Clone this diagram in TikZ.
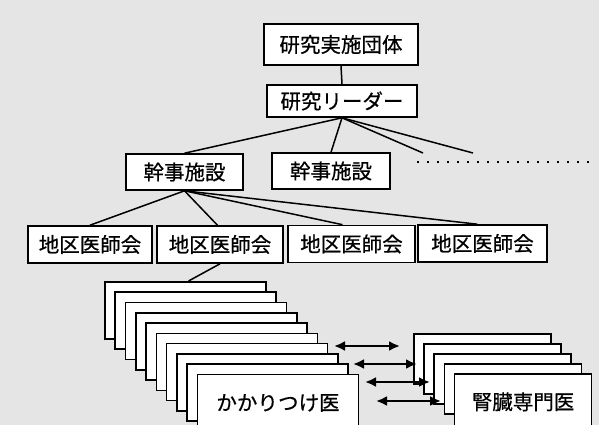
\documentclass[tikz,border=0pt]{standalone}
\usepackage{fontspec}
\newfontfamily\jp[FakeBold=0.6]{Noto Sans CJK JP}
\usetikzlibrary{arrows.meta,calc}
\begin{document}
\begin{tikzpicture}[x=1pt,y=-1pt,
  box/.style={draw,fill=white,line width=1.6pt,inner sep=0pt,font=\jp\fontsize{20.5pt}{24pt}\selectfont},
  card/.style={draw,fill=white,line width=1.6pt,inner sep=0pt,anchor=north west,font=\jp\fontsize{20.5pt}{24pt}\selectfont},
  lcard/.style={card,minimum width=161pt,minimum height=57pt},
  rcard/.style={card,minimum width=137pt,minimum height=50pt},
  link/.style={line width=1.5pt},
  dbl/.style={line width=2.6pt,{Latex[length=11pt,width=10pt]}-{Latex[length=11pt,width=10pt]}},
  dots/.style={line width=2.2pt,dash pattern=on 1.8pt off 8.2pt}]

\useasboundingbox (0,0) rectangle (599,425);
\fill[black!10] (0,0) rectangle (599,425);

% hierarchy boxes
\node[box,minimum width=154pt,minimum height=41pt] (top) at (341,44.5) {研究実施団体};
\node[box,minimum width=150pt,minimum height=32pt] (lead) at (342,101) {研究リーダー};
\node[box,minimum width=117pt,minimum height=36pt] (k1) at (184.5,172) {幹事施設};
\node[box,minimum width=118pt,minimum height=36pt] (k2) at (331,171) {幹事施設};
\node[box,minimum width=124pt,minimum height=37pt] (d1) at (90,244.5) {地区医師会};
\node[box,minimum width=126pt,minimum height=37pt] (d2) at (220,244.5) {地区医師会};
\node[box,minimum width=127pt,minimum height=37pt] (d3) at (351.5,244) {地区医師会};
\node[box,minimum width=129pt,minimum height=37pt] (d4) at (482.5,243.5) {地区医師会};

\coordinate (c3) at (423,153);
\coordinate (c4) at (473,153);
\coordinate (dotl) at (417,162);
\coordinate (dotr) at (590,162);

% connectors
\draw[link] (top.south) -- (lead.north);
\draw[link] (lead.south) -- (k1.north);
\draw[link] (lead.south) -- (k2.north);
\draw[link] (lead.south) -- (c3);
\draw[link] (lead.south) -- (c4);
\draw[dots] (dotl) -- (dotr);
\draw[link] (k1.south) -- (d1.north);
\draw[link] (k1.south) -- ($(d2.north west)!0.48!(d2.north east)$);
\draw[link] (k1.south) -- ($(d3.north west)!0.43!(d3.north east)$);
\draw[link] (k1.south) -- ($(d4.north west)!0.46!(d4.north east)$);

% stack of family doctors
\foreach \i in {0,...,8}
  \node[lcard] (lc\i) at ({104+10.3*\i},{281+10.3*\i}) {};
\node[lcard] (lc9) at (196.7,373.7) {かかりつけ医};
\draw[link] (d2.south) -- ($(lc0.north west)!0.52!(lc0.north east)$);

% stack of nephrologists
\foreach \j in {0,...,3}
  \node[rcard] (rc\j) at ({413+10.2*\j},{333+10*\j}) {};
\node[rcard,minimum height=56pt] (rc4) at (453.8,373) {腎臓専門医};

% double arrows
\coordinate (a1l) at (334,346); \coordinate (a1r) at (400,346);
\coordinate (a2l) at (353,364); \coordinate (a2r) at (417,364);
\coordinate (a3l) at (365,382); \coordinate (a3r) at (430,382);
\coordinate (a4l) at (376,401); \coordinate (a4r) at (441,401);
\draw[dbl] (a1l) -- (a1r);
\draw[dbl] (a2l) -- (a2r);
\draw[dbl] (a3l) -- (a3r);
\draw[dbl] (a4l) -- (a4r);
\end{tikzpicture}
\end{document}
